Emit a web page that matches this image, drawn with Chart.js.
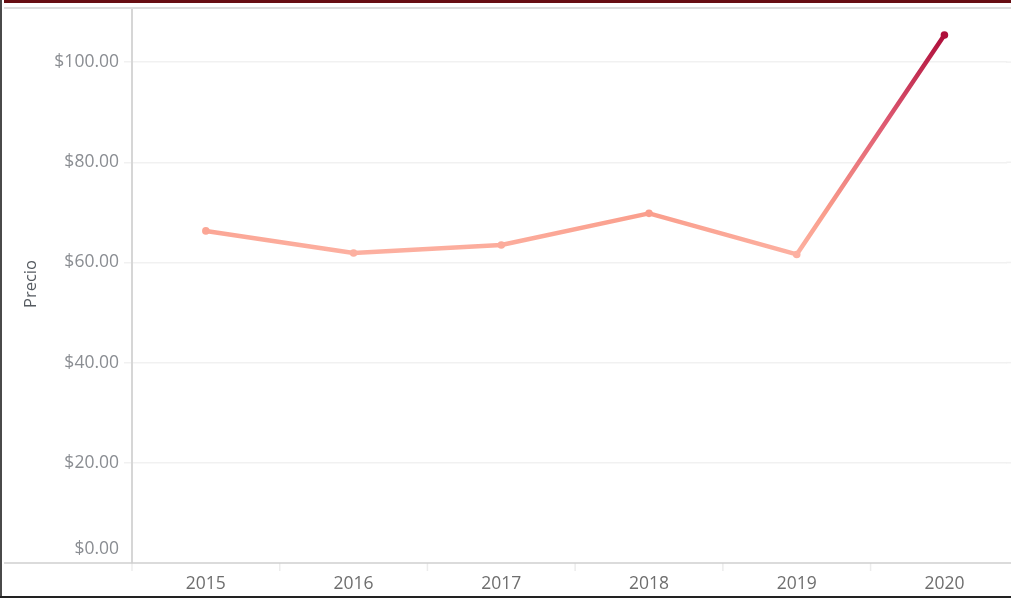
<!DOCTYPE html>
<html>
<head>
<meta charset="utf-8">
<script src="https://cdn.jsdelivr.net/npm/chart.js@4/dist/chart.umd.min.js"></script>
<style>
  html, body { margin: 0; padding: 0; background: #fff; overflow: hidden; }
  #wrap { position: absolute; left: 0; top: 0; width: 1011px; height: 598px; }
  .frame { position: absolute; }
</style>
</head>
<body>
<div id="wrap"><canvas id="c" width="1011" height="598"></canvas></div>
<div class="frame" style="left:4px;top:0;width:1007px;height:3px;background:#670d12;"></div>
<div class="frame" style="left:4px;top:7px;width:1007px;height:2px;background:#dedede;"></div>
<div class="frame" style="left:0;top:0;width:2px;height:598px;background:#4a4a4a;"></div>
<div class="frame" style="left:0;top:596px;width:1011px;height:2px;background:#222;"></div>
<script>
const categories = ['2015', '2016', '2017', '2018', '2019', '2020'];
const precio = [66.3, 61.9, 63.5, 69.8, 61.6, 105.4];
const yTicks = [0, 20, 40, 60, 80, 100];
const yMax = 110.8;
const axisTitle = 'Precio';

const FONT = '"Open Sans", "DejaVu Sans", sans-serif';
const colorStops = [[60, [253, 180, 165]], [70, [250, 158, 140]], [88, [222, 90, 114]], [106, [173, 12, 57]]];
function colorFor(v) {
  if (v <= colorStops[0][0]) return 'rgb(' + colorStops[0][1].join(',') + ')';
  for (let i = 1; i < colorStops.length; i++) {
    if (v <= colorStops[i][0]) {
      const [a, ca] = colorStops[i - 1], [b, cb] = colorStops[i];
      const t = (v - a) / (b - a);
      const c = ca.map((x, k) => Math.round(x + (cb[k] - x) * t));
      return 'rgb(' + c.join(',') + ')';
    }
  }
  return 'rgb(' + colorStops[colorStops.length - 1][1].join(',') + ')';
}
function fmt(v) { return '$' + v.toFixed(2); }

const customAxis = {
  id: 'customAxis',
  afterDraw(chart) {
    const c = chart.ctx;
    const y = chart.scales.y;
    const x = chart.scales.x;
    const area = chart.chartArea;
    const W = Math.max(chart.width, c.canvas.width);
    c.save();
    // extend horizontal gridlines to the right edge
    c.strokeStyle = '#f1f1f1';
    c.lineWidth = 1.5;
    yTicks.forEach(v => {
      if (v === 0) return;
      const py = y.getPixelForValue(v);
      c.beginPath();
      c.moveTo(area.right - 1, py);
      c.lineTo(W, py);
      c.stroke();
    });
    // category boundary tick marks
    c.strokeStyle = '#ececec';
    for (let i = 0; i <= categories.length; i++) {
      const px = x.getPixelForValue(i - 0.5);
      if (px > W) continue;
      c.beginPath();
      c.moveTo(px, area.bottom);
      c.lineTo(px, area.bottom + 8);
      c.stroke();
    }
    // x axis line
    c.strokeStyle = '#cfcfcf';
    c.beginPath();
    c.moveTo(4, area.bottom);
    c.lineTo(W, area.bottom);
    c.stroke();
    // x labels
    c.font = '17.5px ' + FONT;
    c.fillStyle = '#6e6e6e';
    c.textAlign = 'center';
    c.textBaseline = 'middle';
    categories.forEach((lab, i) => c.fillText(lab, x.getPixelForValue(i), area.bottom + 21));
    // y labels
    c.fillStyle = '#8a8d92';
    c.textAlign = 'right';
    yTicks.forEach(v => {
      let py = y.getPixelForValue(v);
      if (v === 0) py -= 14;
      c.fillText(fmt(v), 119, py);
    });
    // axis title
    c.translate(31, 284);
    c.rotate(-Math.PI / 2);
    c.textAlign = 'center';
    c.fillStyle = '#555a60';
    c.font = '16.5px ' + FONT;
    c.fillText(axisTitle, 0, 0);
    c.restore();
  }
};

new Chart(document.getElementById('c'), {
  type: 'line',
  data: {
    datasets: [{
      data: precio.map((v, i) => ({ x: i, y: v })),
      borderWidth: 4.5,
      tension: 0,
      borderCapStyle: 'round',
      borderJoinStyle: 'round',
      pointRadius: 3.8,
      pointBorderWidth: 0,
      pointHoverRadius: 3.8,
      pointBackgroundColor: ctx => colorFor(precio[ctx.dataIndex] || 0),
      borderColor: ctx => {
        const chart = ctx.chart;
        const area = chart.chartArea;
        if (!area) return colorFor(65);
        const y = chart.scales.y;
        const lo = colorStops[0][0], hi = colorStops[colorStops.length - 1][0];
        const g = chart.ctx.createLinearGradient(0, y.getPixelForValue(lo), 0, y.getPixelForValue(hi));
        colorStops.forEach(([v, col]) => g.addColorStop((v - lo) / (hi - lo), 'rgb(' + col.join(',') + ')'));
        return g;
      }
    }]
  },
  options: {
    responsive: false,
    animation: false,
    events: [],
    layout: { padding: { top: 8, right: 0, left: 0, bottom: 0 } },
    plugins: { legend: { display: false }, tooltip: { enabled: false } },
    scales: {
      x: {
        type: 'linear',
        min: -0.5,
        max: 5.425,
        afterBuildTicks: s => { s.ticks = categories.map((_, i) => ({ value: i })); },
        grid: { display: false },
        border: { display: false },
        ticks: { display: false },
        afterFit: s => { s.height = 35; }
      },
      y: {
        min: 0,
        max: yMax,
        afterBuildTicks: s => { s.ticks = yTicks.map(v => ({ value: v })); },
        grid: {
          color: ctx => (ctx.tick && ctx.tick.value === 0) ? 'rgba(0,0,0,0)' : '#f1f1f1',
          lineWidth: 1.5,
          tickLength: 8,
          drawTicks: true
        },
        border: { display: true, color: '#d6d6d6', width: 2 },
        ticks: { color: 'rgba(0,0,0,0)', font: { family: FONT, size: 1 }, callback: v => fmt(v) },
        afterFit: s => { s.width = 132; }
      }
    }
  },
  plugins: [customAxis]
});
</script>
</body>
</html>
